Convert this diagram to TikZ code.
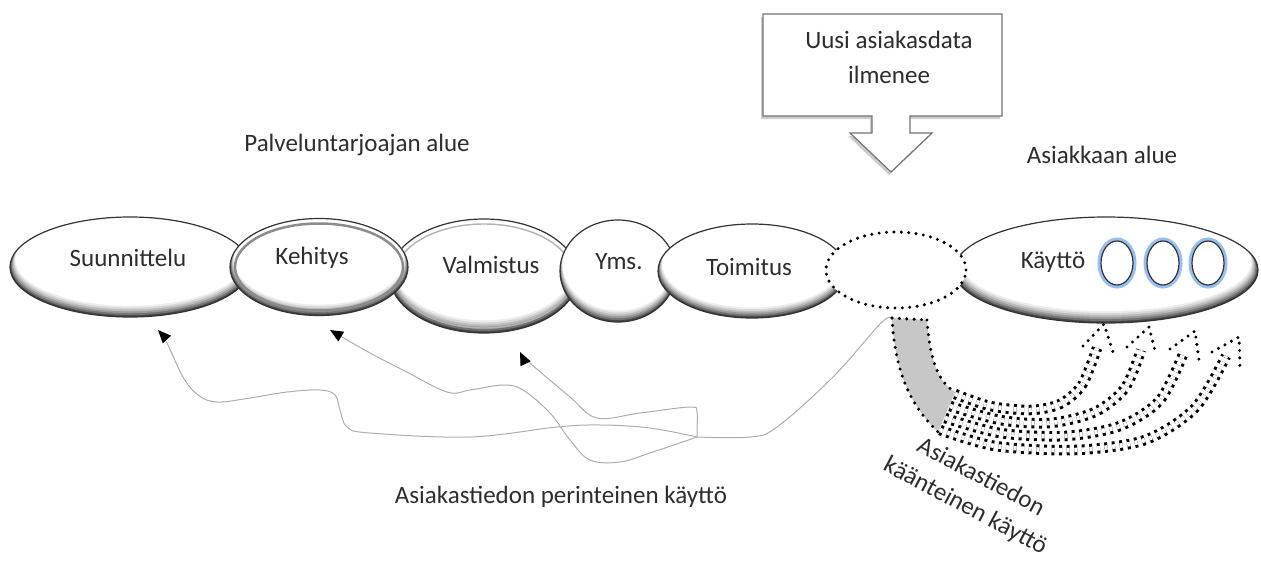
\documentclass[tikz,border=0pt]{standalone}
\usepackage{fontspec}
\setmainfont{Carlito}
\usetikzlibrary{shapes.geometric,arrows.meta,shadows,calc}
\definecolor{glow}{RGB}{150,190,240}
\definecolor{ink}{RGB}{45,45,45}
\tikzset{
  % white face with a darker rim towards the bottom
  bev/.style={ellipse, draw=black!80, line width=1.2pt, inner sep=0pt, fill=white,
    path picture={
      \fill[black!72] (path picture bounding box.south west) rectangle (path picture bounding box.north east);
      \foreach \s/\c in {0.025/black!55, 0.05/black!40, 0.075/black!27, 0.1/black!16, 0.125/black!7, 0.15/white} {
        \fill[\c] let \p1=($(path picture bounding box.north east)-(path picture bounding box.center)$) in
          ($(path picture bounding box.center)+(0pt,\s*\y1)$)
          ellipse [x radius={(1-0.3*\s)*\x1}, y radius={(1-0.5*\s)*\y1}];
      }
    }},
  lbl/.style={font=\fontsize{25}{30}\selectfont, text=ink, inner sep=0pt},
  dotline/.style={line width=3.4pt, line cap=round, dash pattern=on 0pt off 7.4pt},
  dotpair/.style={line width=3pt, line cap=butt, dash pattern=on 3pt off 4.6pt, double=white, double distance=4.5pt},
  flow/.style={draw=black!32, line width=1pt, -{Triangle[length=13pt,width=11pt,color=black]}},
  mini/.style={ellipse, draw=black!80, line width=1.2pt, fill=white, inner sep=0pt,
    minimum width=32pt, minimum height=44pt, preaction={draw=glow, line width=7pt}},
}
\begin{document}
\begin{tikzpicture}[x=1pt,y=-1pt]
\fill[white] (0,0) rectangle (1261,560);
\useasboundingbox (0,0) rectangle (1261,560);

% process chain of the service provider
\node[bev, minimum width=240pt, minimum height=100pt] (suun) at (130,267) {};
\node[bev, minimum width=188pt, minimum height=114pt] (valm) at (484,276) {};
\draw[black!30, line width=1.4pt] (valm.center) ellipse [x radius=89pt, y radius=52pt];
\node[bev, minimum width=178pt, minimum height=97pt] (keh) at (319,267) {};
\draw[black!45, line width=2.5pt] (keh.center) ellipse [x radius=84pt, y radius=43.5pt];
\node[bev, minimum width=116pt, minimum height=102pt] (yms) at (618,271) {};
\node[bev, minimum width=188pt, minimum height=94pt] (toim) at (752,271) {};
\node[bev, minimum width=304pt, minimum height=106pt] (kay) at (1106,270) {};
\node[ellipse, fill=white, draw=black, dotline, inner sep=0pt,
      minimum width=140pt, minimum height=76pt] (new) at (896,270) {};

\node[lbl] (tsuun) at (128,258) {Suunnittelu};
\node[lbl] (tkeh)  at (312,258) {Kehitys};
\node[lbl] (tvalm) at (491,265) {Valmistus};
\node[lbl] (tyms)  at (619,262) {Yms.};
\node[lbl] (ttoim) at (749,267) {Toimitus};
\node[lbl] (tkay)  at (1053,262) {Käyttö};

\node[mini] (u1) at (1117,263) {};
\node[mini] (u2) at (1163,263) {};
\node[mini] (u3) at (1208,263) {};

% area labels
\node[lbl] (prov) at (357,145) {Palveluntarjoajan alue};
\node[lbl] (cust) at (1102,155) {Asiakkaan alue};
\node[lbl] (trad) at (561,497) {Asiakastiedon perinteinen käyttö};
\node[lbl, align=center, rotate=-28, font=\fontsize{25}{33}\selectfont] (rev) at (973,492)
  {Asiakastiedon\\käänteinen käyttö};

% callout: new customer data appears
\draw[black!55, line width=1.2pt, fill=white,
      drop shadow={shadow xshift=-2pt, shadow yshift=-3pt, opacity=0.4}]
  (763,14) -- (1002,14) -- (1002,116) -- (910,116) -- (910,133) -- (932,133)
  -- (891,172) -- (850,133) -- (872,133) -- (872,116) -- (763,116) -- cycle;
\node[lbl, align=center, font=\fontsize{25}{35}\selectfont] (news) at (889,57)
  {Uusi asiakasdata\\ilmenee};

% traditional use: back to the early phases
\coordinate (src) at (891,318);
\coordinate (hub) at (697,437);
\coordinate (t1) at (158,330);
\coordinate (t2) at (330,330);
\coordinate (t3) at (520,352);
\draw[draw=black!32, line width=1pt] plot[smooth, tension=0.6] coordinates
  {(src) (880,324) (833,377) (777,427) (750,437) (hub)};
\draw[flow] plot[smooth, tension=0.6] coordinates
  {(hub) (650,428) (600,425) (557,427) (470,437) (370,433) (347,427) (340,410)
   (335,395) (320,390) (287,392) (250,398) (217,402) (198,395) (183,377) (167,343) (t1)};
\draw[flow] plot[smooth, tension=0.6] coordinates
  {(hub) (650,453) (620,462) (590,460) (570,440) (550,413) (523,390) (503,385)
   (470,390) (447,392) (403,370) (370,353) (t2)};
\draw[flow] plot[smooth, tension=0.6] coordinates
  {(hub) (697,428) (697,412) (690,407) (640,413) (597,418) (570,397) (530,363) (t3)};

% reverse use: looping back into the customer's own use
\fill[black!22] (892,318) .. controls (895,372) and (910,405) .. (938,432)
  -- (955,392) .. controls (938,382) and (930,360) .. (927,320) -- cycle;
\draw[dotline] (892,318) .. controls (895,372) and (910,405) .. (938,432);
\draw[dotline] (927,320) .. controls (930,360) and (938,382) .. (955,392);
\draw[dotline] (892,318) -- (927,320);

\draw[dotpair] plot[smooth] coordinates {(955,394) (990,406) (1030,410) (1060,404) (1082,385) (1097,348)};
\draw[dotpair] plot[smooth] coordinates {(950,406) (1000,420) (1050,423) (1095,412) (1125,388) (1141,350)};
\draw[dotpair] plot[smooth] coordinates {(945,418) (1000,433) (1065,436) (1120,426) (1160,400) (1184,352)};
\draw[dotpair] plot[smooth] coordinates {(940,430) (995,446) (1075,450) (1145,440) (1195,408) (1226,356)};

\draw[dotline] (1083,346) -- (1104,324) -- (1113,352);
\draw[dotline] (1127,347) -- (1149,327) -- (1156,355);
\draw[dotline] (1170,349) -- (1195,331) -- (1199,360);
\draw[dotline] (1212,352) -- (1239,337) -- (1240,366);
\end{tikzpicture}
\end{document}
